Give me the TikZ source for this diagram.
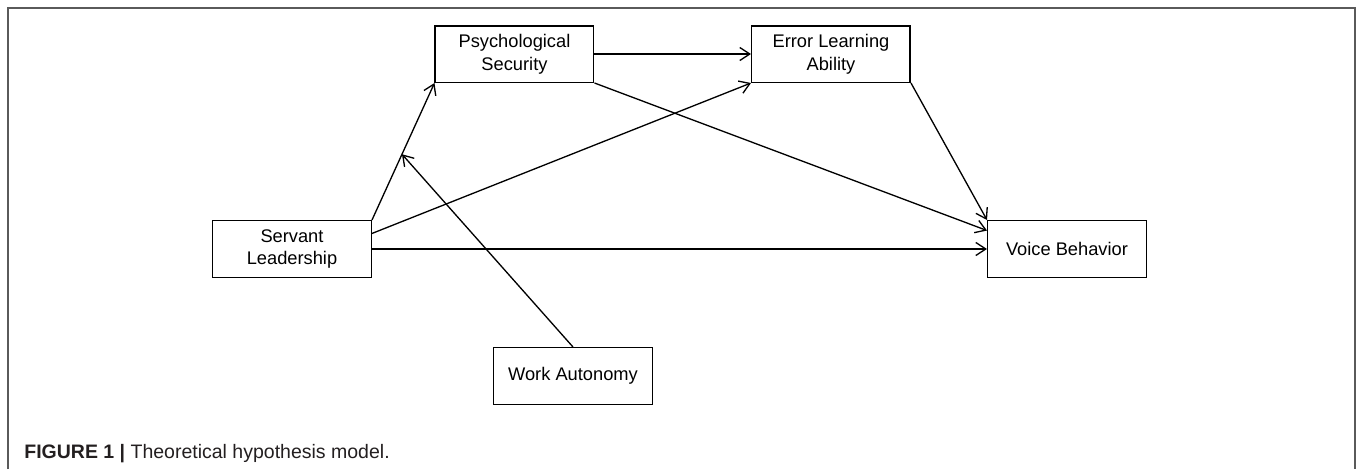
\documentclass[tikz,border=0pt]{standalone}
\usepackage{fontspec}
\setmainfont{Liberation Sans}
\usepackage{xcolor}
\usepackage{tikz}
\usetikzlibrary{arrows.meta,positioning}
\definecolor{frame}{HTML}{5A5A5A}
\definecolor{captxt}{HTML}{231F20}

\begin{document}
\begin{tikzpicture}[
  box/.style={draw=black,line width=0.85pt,minimum width=3.17cm,minimum height=1.13cm,
              inner sep=2pt,align=center,font=\fontsize{10.4}{13}\selectfont},
  arr/.style={-{Straight Barb[length=2mm,width=2.6mm]},line width=0.75pt}
]
\useasboundingbox (-5.84,4.98) rectangle (21.32,-4.4);
\draw[frame,line width=1.1pt] (-5.68,-4.4) |- (21.26,4.82) -- (21.26,-4.4);
\node[box] (sl) {Servant\\Leadership};
\node[box,above right=2.74cm and 1.25cm of sl] (ps) {Psychological\\Security};
\node[box,right=3.13cm of ps] (el) {Error Learning\\Ability};
\node[box,right=12.3cm of sl] (vb) {Voice Behavior};
\node[box,below right=1.38cm and 2.42cm of sl] (wa) {Work Autonomy};
\draw[arr] (sl.north east) -- coordinate[pos=0.48] (mod) (ps.south west);
\draw[arr] (sl.11) -- (el.south west);
\draw[arr] (sl.east) -- (vb.west);
\draw[arr] (ps.east) -- (el.west);
\draw[arr] (ps.south east) -- (vb.167);
\draw[arr] (el.south east) -- (vb.north west);
\draw[arr] (wa.north) -- (mod);
\node[anchor=base west,inner sep=0pt,text=captxt,font=\fontsize{11.1}{13}\selectfont]
  (cap) at (-5.36,-4.18) {\textbf{FIGURE 1 |} Theoretical hypothesis model.};
\end{tikzpicture}
\end{document}
